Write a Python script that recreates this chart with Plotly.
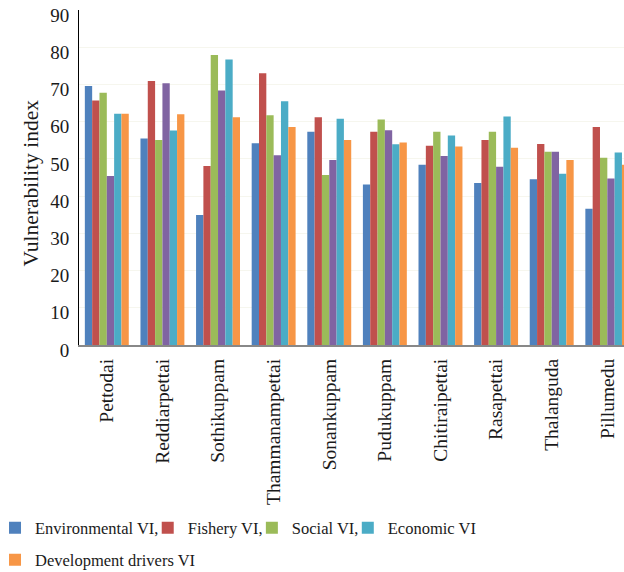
import plotly.graph_objects as go

villages = ["Pettodai", "Reddiarpettai", "Sothikuppam", "Thammanampettai", "Sonankuppam",
            "Pudukuppam", "Chitiraipettai", "Rasapettai", "Thalanguda", "Pillumedu"]

environmental = [69.6, 55.5, 34.9, 54.2, 57.3, 43.1, 48.4, 43.5, 44.5, 36.6]
fishery       = [65.7, 70.9, 48.1, 73.0, 61.2, 57.3, 53.5, 55.1, 54.0, 58.6]
social        = [67.8, 55.1, 77.9, 61.7, 45.7, 60.6, 57.3, 57.3, 51.9, 50.3]
unlabelled    = [45.4, 70.3, 68.4, 51.0, 49.7, 57.7, 50.8, 47.9, 51.9, 44.7]
economic      = [62.1, 57.6, 76.7, 65.5, 60.8, 53.9, 56.3, 61.4, 46.0, 51.7]
development   = [62.1, 62.0, 61.2, 58.6, 55.1, 54.4, 53.3, 53.0, 49.7, 48.4]

# (name, values, colour, legend id or None)
series = [
    ("Environmental VI,", environmental, "#4F81BD", "legend"),
    ("Fishery VI,", fishery, "#C0504D", "legend2"),
    ("Social VI,", social, "#9BBB59", "legend3"),
    ("Unlabelled VI", unlabelled, "#8064A2", None),
    ("Economic VI", economic, "#4BACC6", "legend4"),
    ("Development drivers VI", development, "#F79646", "legend5"),
]

FONT = "Liberation Serif, Times New Roman, serif"
TXT = "#1a1a1a"

fig = go.Figure()
for name, vals, color, leg in series:
    kw = dict(showlegend=False) if leg is None else dict(showlegend=True, legend=leg)
    fig.add_trace(go.Bar(x=villages, y=vals, name=name, marker_color=color,
                         marker_line_width=0, **kw))

legend_font = dict(family=FONT, size=16.5, color=TXT)
def leg(x, y):
    return dict(orientation="h", x=x, xanchor="left", y=y, yanchor="middle",
                xref="paper", yref="paper", font=legend_font,
                bgcolor="rgba(0,0,0,0)", borderwidth=0, itemwidth=30)

fig.update_layout(
    width=624, height=572,
    margin=dict(l=79, r=0, t=10, b=227, autoexpand=False),
    paper_bgcolor="white", plot_bgcolor="white",
    barmode="group", bargap=0.21, bargroupgap=0,
    font=dict(family=FONT, size=19, color=TXT),
    legend=leg(-0.1541, -0.5463),
    legend2=leg(0.1261, -0.5463),
    legend3=leg(0.3172, -0.5463),
    legend4=leg(0.4932, -0.5463),
    legend5=leg(-0.1541, -0.6418),
    xaxis=dict(range=[-0.5, 9.3], tickangle=-90, showline=True, linecolor="#888888",
               linewidth=2, ticks="", showgrid=False, ticklabelstandoff=4,
               tickfont=dict(family=FONT, size=19.5, color=TXT)),
    yaxis=dict(range=[0, 90], dtick=10, showline=True, linecolor="#000000", linewidth=1,
               ticks="", showgrid=True, gridcolor="#f6f6ee", zeroline=False,
               ticklabelstandoff=5, ticklabelshift=5, ticklabeloverflow="allow",
               tickfont=dict(family=FONT, size=19, color=TXT)),
)

fig.add_annotation(text="Vulnerability index", xref="paper", yref="paper",
                   x=-0.0881, y=0.485, textangle=-90, showarrow=False,
                   font=dict(family=FONT, size=21.5, color=TXT),
                   xanchor="center", yanchor="middle")

fig.write_html("out.html", config={"displayModeBar": False},
               post_script="document.body.style.margin='0';document.body.style.padding='0';")
